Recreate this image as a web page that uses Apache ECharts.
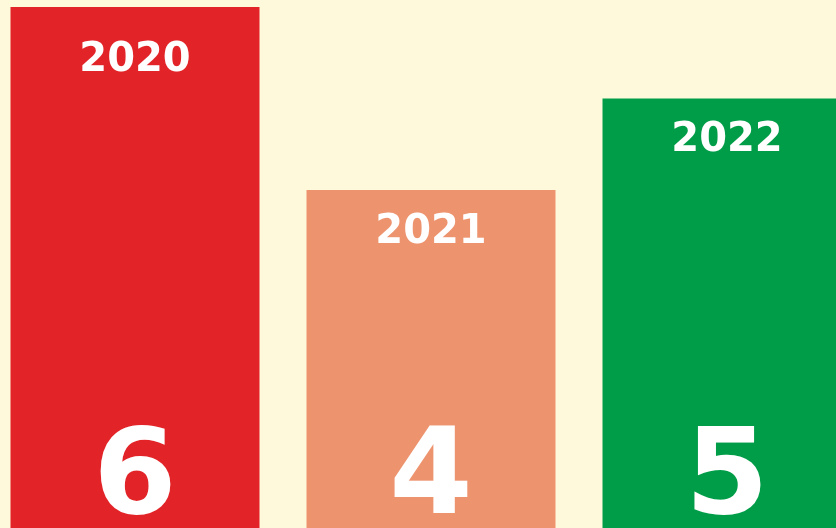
<!DOCTYPE html>
<html>
<head>
<meta charset="utf-8">
<script src="https://cdn.jsdelivr.net/npm/echarts@6/dist/echarts.min.js"></script>
<style>
html,body{margin:0;padding:0;background:#FFF9DC;overflow:hidden;width:836px;height:528px;position:relative;}
#main{position:absolute;left:-13px;top:0;width:888px;height:556px;}
</style>
</head>
<body>
<div id="main"></div>
<script>
// 数据
var years = ['2020', '2021', '2022'];
var counts = [6, 4, 5];
var barColors = ['#E22428', '#ED936E', '#009D48'];
// 年份标签离柱顶的距离
var yearLabelDist = [54, 43, 42];

var chart = echarts.init(document.getElementById('main'));

var yearData = [], numData = [];
for (var i = 0; i < years.length; i++) {
    yearData.push({
        value: counts[i],
        itemStyle: { color: barColors[i] },
        label: { offset: [0, yearLabelDist[i]] }
    });
    numData.push({ value: counts[i] });
}

var option = {
    backgroundColor: '#FFF9DC',
    animation: false,
    grid: { left: 0, right: 0, top: 7, bottom: 0 },
    xAxis: {
        type: 'category',
        data: years,
        show: false
    },
    yAxis: {
        type: 'value',
        min: 0,
        max: 6,
        show: false
    },
    series: [
        {
            type: 'bar',
            barWidth: 249,
            data: yearData,
            label: {
                show: true,
                position: ['50%', 0],
                align: 'center',
                verticalAlign: 'middle',
                formatter: function (p) { return years[p.dataIndex]; },
                color: '#fff',
                fontFamily: 'DejaVu Sans',
                fontWeight: 'bold',
                fontSize: 40
            }
        },
        {
            type: 'bar',
            barWidth: 249,
            barGap: '-100%',
            data: numData,
            itemStyle: { color: 'rgba(0,0,0,0)' },
            label: {
                show: true,
                position: ['50%', '100%'],
                offset: [0, -74],
                align: 'center',
                verticalAlign: 'middle',
                formatter: '{c}',
                color: '#fff',
                fontFamily: 'DejaVu Sans',
                fontWeight: 'bold',
                fontSize: 120
            }
        }
    ]
};
chart.setOption(option);
</script>
</body>
</html>
